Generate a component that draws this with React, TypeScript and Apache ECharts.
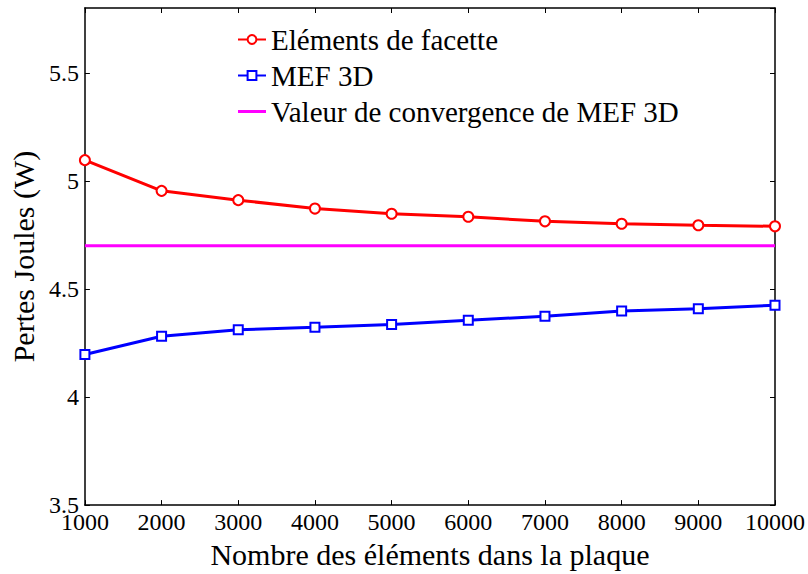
import React, { useEffect, useRef } from "react";
import * as echarts from "echarts";

const xValues = [1000, 2000, 3000, 4000, 5000, 6000, 7000, 8000, 9000, 10000];
const facetteValues = [5.096, 4.954, 4.911, 4.872, 4.848, 4.834, 4.813, 4.802, 4.795, 4.79];
const mef3dValues = [4.197, 4.281, 4.311, 4.323, 4.336, 4.355, 4.374, 4.398, 4.409, 4.425];
const convergenceValue = 4.7;
const seriesNames = [
  "Eléments de facette",
  "MEF 3D",
  "Valeur de convergence de MEF 3D",
];
const xTitle = "Nombre des éléments dans la plaque";
const yTitle = "Pertes Joules (W)";

const FONT = "Liberation Serif";

export default function App() {
  const ref = useRef<HTMLDivElement>(null);
  useEffect(() => {
    if (!ref.current) return;
    const chart = echarts.init(ref.current, undefined, { renderer: "svg" });
    const axisLine = { show: true, lineStyle: { color: "#000", width: 1.5 } };
    const axisTick = { show: true, inside: true, length: 5, lineStyle: { color: "#000", width: 1 } };
    chart.setOption({
      animation: false,
      backgroundColor: "#fff",
      textStyle: { fontFamily: FONT },
      grid: { left: 79, right: 31, top: 8, bottom: 61, containLabel: false },
      legend: {
        orient: "vertical",
        left: 237,
        top: 25,
        padding: 0,
        itemWidth: 28,
        itemHeight: 11,
        itemGap: 7,
        textStyle: { fontFamily: FONT, fontSize: 29, color: "#000" },
        data: [
          { name: seriesNames[0] },
          { name: seriesNames[1] },
          { name: seriesNames[2], icon: "path://M0,0H28V3H0Z" },
        ],
      },
      xAxis: [
        {
          type: "value",
          min: 1000,
          max: 10000,
          interval: 1000,
          position: "bottom",
          axisLine,
          axisTick,
          splitLine: { show: false },
          axisLabel: {
            color: "#000",
            fontFamily: FONT,
            fontSize: 24,
            margin: 5,
            formatter: (v: number) => String(v),
          },
          name: xTitle,
          nameLocation: "middle",
          nameGap: 30,
          nameTextStyle: { color: "#000", fontFamily: FONT, fontSize: 30 },
        },
        {
          type: "value",
          min: 1000,
          max: 10000,
          interval: 1000,
          position: "top",
          axisLine,
          axisTick,
          splitLine: { show: false },
          axisLabel: { show: false },
        },
      ],
      yAxis: [
        {
          type: "value",
          min: 3.5,
          max: 5.8,
          interval: 0.5,
          position: "left",
          axisLine,
          axisTick,
          splitLine: { show: false },
          axisLabel: {
            color: "#000",
            fontFamily: FONT,
            fontSize: 24,
            margin: 6,
            showMaxLabel: false,
            formatter: (v: number) => (Math.abs(v - 5.8) < 1e-6 ? "" : String(v)),
          },
          name: yTitle,
          nameLocation: "middle",
          nameGap: 44,
          nameTextStyle: { color: "#000", fontFamily: FONT, fontSize: 30 },
        },
        {
          type: "value",
          min: 3.5,
          max: 5.8,
          interval: 0.5,
          position: "right",
          axisLine,
          axisTick,
          splitLine: { show: false },
          axisLabel: { show: false },
        },
      ],
      series: [
        {
          name: seriesNames[0],
          type: "line",
          xAxisIndex: 0,
          yAxisIndex: 0,
          data: xValues.map((x, i) => [x, facetteValues[i]]),
          color: "#ff0000",
          lineStyle: { color: "#ff0000", width: 3 },
          symbol: "emptyCircle",
          symbolSize: 10,
          itemStyle: { color: "#ff0000", borderColor: "#ff0000", borderWidth: 3 },
        },
        {
          name: seriesNames[1],
          type: "line",
          xAxisIndex: 0,
          yAxisIndex: 0,
          data: xValues.map((x, i) => [x, mef3dValues[i]]),
          color: "#0000ff",
          lineStyle: { color: "#0000ff", width: 3 },
          symbol: "emptyRect",
          symbolSize: 9,
          itemStyle: { color: "#0000ff", borderColor: "#0000ff", borderWidth: 3 },
        },
        {
          name: seriesNames[2],
          type: "line",
          xAxisIndex: 0,
          yAxisIndex: 0,
          data: xValues.map((x) => [x, convergenceValue]),
          color: "#ff00ff",
          lineStyle: { color: "#ff00ff", width: 3 },
          symbol: "none",
          showSymbol: false,
        },
      ],
    });
    return () => chart.dispose();
  }, []);
  return (
    <div
      ref={ref}
      style={{ position: "fixed", left: 0, top: 0, width: 808, height: 574, background: "#fff" }}
    />
  );
}
